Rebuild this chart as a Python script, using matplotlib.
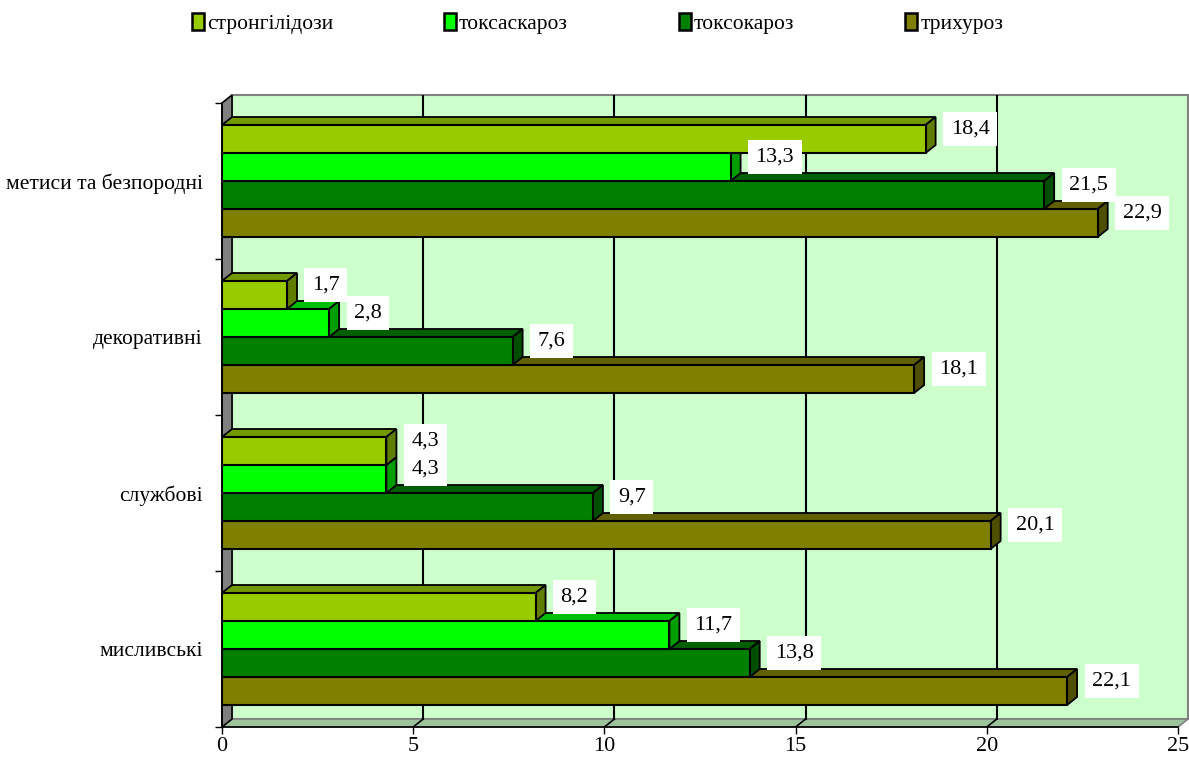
import matplotlib.pyplot as plt
from matplotlib.patches import Patch
import matplotlib.colors as mcolors

plt.rcParams['font.family'] = ['Liberation Serif', 'DejaVu Serif']

# data
categories = ['мисливські', 'службові', 'декоративні', 'метиси та безпородні']
series = ['стронгілідози', 'токсаскароз', 'токсокароз', 'трихуроз']
strongyl = [8.2, 4.3, 1.7, 18.4]
toxascar = [11.7, 4.3, 2.8, 13.3]
toxocar = [13.8, 9.7, 7.6, 21.5]
trichur = [22.1, 20.1, 18.1, 22.9]
values = [strongyl, toxascar, toxocar, trichur]
colors = ['#99CC00', '#00FF00', '#008000', '#808000']
x_ticks = [0, 5, 10, 15, 20, 25]


def shade(c, f):
    r, g, b = mcolors.to_rgb(c)
    return (r * f, g * f, b * f)


fig = plt.figure(figsize=(11.89, 7.58), dpi=100)
ax = fig.add_axes([222 / 1189, 1 - 727 / 758, 966 / 1189, 632 / 758])

x_max = 25
dx = 10 / 38.24      # depth offset in x units
dy = 8 / 156         # depth offset in y units
y0, y1 = -0.5, len(categories) - 0.5
h = 28 / 156         # bar thickness

ax.set_xlim(0, x_max + dx)
ax.set_ylim(y0, y1 + dy)

# walls and floor
ax.fill([dx, x_max + dx, x_max + dx, dx], [y0 + dy, y0 + dy, y1 + dy, y1 + dy],
        fc='#CCFFCC', ec='#808080', lw=1.5, zorder=0, clip_on=False)
ax.fill([0, x_max, x_max + dx, dx], [y0, y0, y0 + dy, y0 + dy],
        fc='#9DC39D', ec='#808080', lw=1.2, zorder=0.5, clip_on=False)
ax.fill([0, dx, dx, 0], [y0, y0 + dy, y1 + dy, y1],
        fc='#808080', ec='black', lw=1.2, zorder=0.5, clip_on=False)

# gridlines
for t in x_ticks[1:-1]:
    ax.plot([t + dx, t + dx], [y0 + dy, y1 + dy], color='black', lw=1.5, zorder=1)
    ax.plot([t, t + dx], [y0, y0 + dy], color='black', lw=1.2, zorder=1)

# bars: draw from bottom to top so upper bars cover lower top faces
offsets = [1.5 * h, 0.5 * h, -0.5 * h, -1.5 * h]
z = 2
for ci in range(len(categories)):
    for si in reversed(range(len(series))):
        v = values[si][ci]
        yc = ci + offsets[si]
        yb, yt = yc - h / 2, yc + h / 2
        col = colors[si]
        ax.fill([0, v, v + dx, dx], [yt, yt, yt + dy, yt + dy],
                fc=shade(col, 0.75), ec='black', lw=1.3, zorder=z)
        ax.fill([v, v + dx, v + dx, v], [yb, yb + dy, yt + dy, yt],
                fc=shade(col, 0.62), ec='black', lw=1.3, zorder=z)
        ax.barh(yc, v, height=h, color=col, edgecolor='black', lw=1.5, zorder=z + 0.5)
        z += 1

# value labels
for ci in range(len(categories)):
    for si in range(len(series)):
        v = values[si][ci]
        yc = ci + offsets[si]
        ax.text(v + 25 / 38.24, yc + 10 / 156, f'{v:.1f}'.replace('.', ','),
                ha='left', va='center', fontsize=16, zorder=100,
                bbox=dict(fc='white', ec='none', pad=5.5))

# axes
for s in ['top', 'right']:
    ax.spines[s].set_visible(False)
ax.spines['bottom'].set_bounds(0, x_max)
ax.spines['left'].set_bounds(y0, y1)
ax.spines['bottom'].set_linewidth(1.2)
ax.spines['left'].set_linewidth(1.2)
ax.spines['bottom'].set_zorder(50)
ax.spines['left'].set_zorder(50)

ax.set_xticks(x_ticks)
ax.set_xticklabels([str(t) for t in x_ticks], fontsize=16)
ax.tick_params(axis='x', length=5, width=1, pad=2)

ax.set_yticks([y0 + i for i in range(len(categories) + 1)])
ax.set_yticklabels([])
ax.tick_params(axis='y', which='major', length=5, width=1)
ax.set_yticks(range(len(categories)), minor=True)
ax.set_yticklabels(categories, minor=True, fontsize=15.5)
ax.tick_params(axis='y', which='minor', length=0, pad=14)

handles = [Patch(fc=c, ec='black', lw=1.8) for c in colors]
fig.legend(handles, series, loc='center', bbox_to_anchor=(0.5025, 0.969), ncol=4,
           frameon=False, fontsize=15.5, handlelength=0.55, handleheight=0.8,
           handletextpad=0.15, columnspacing=5.15)

fig.savefig('out.png', dpi=100)
